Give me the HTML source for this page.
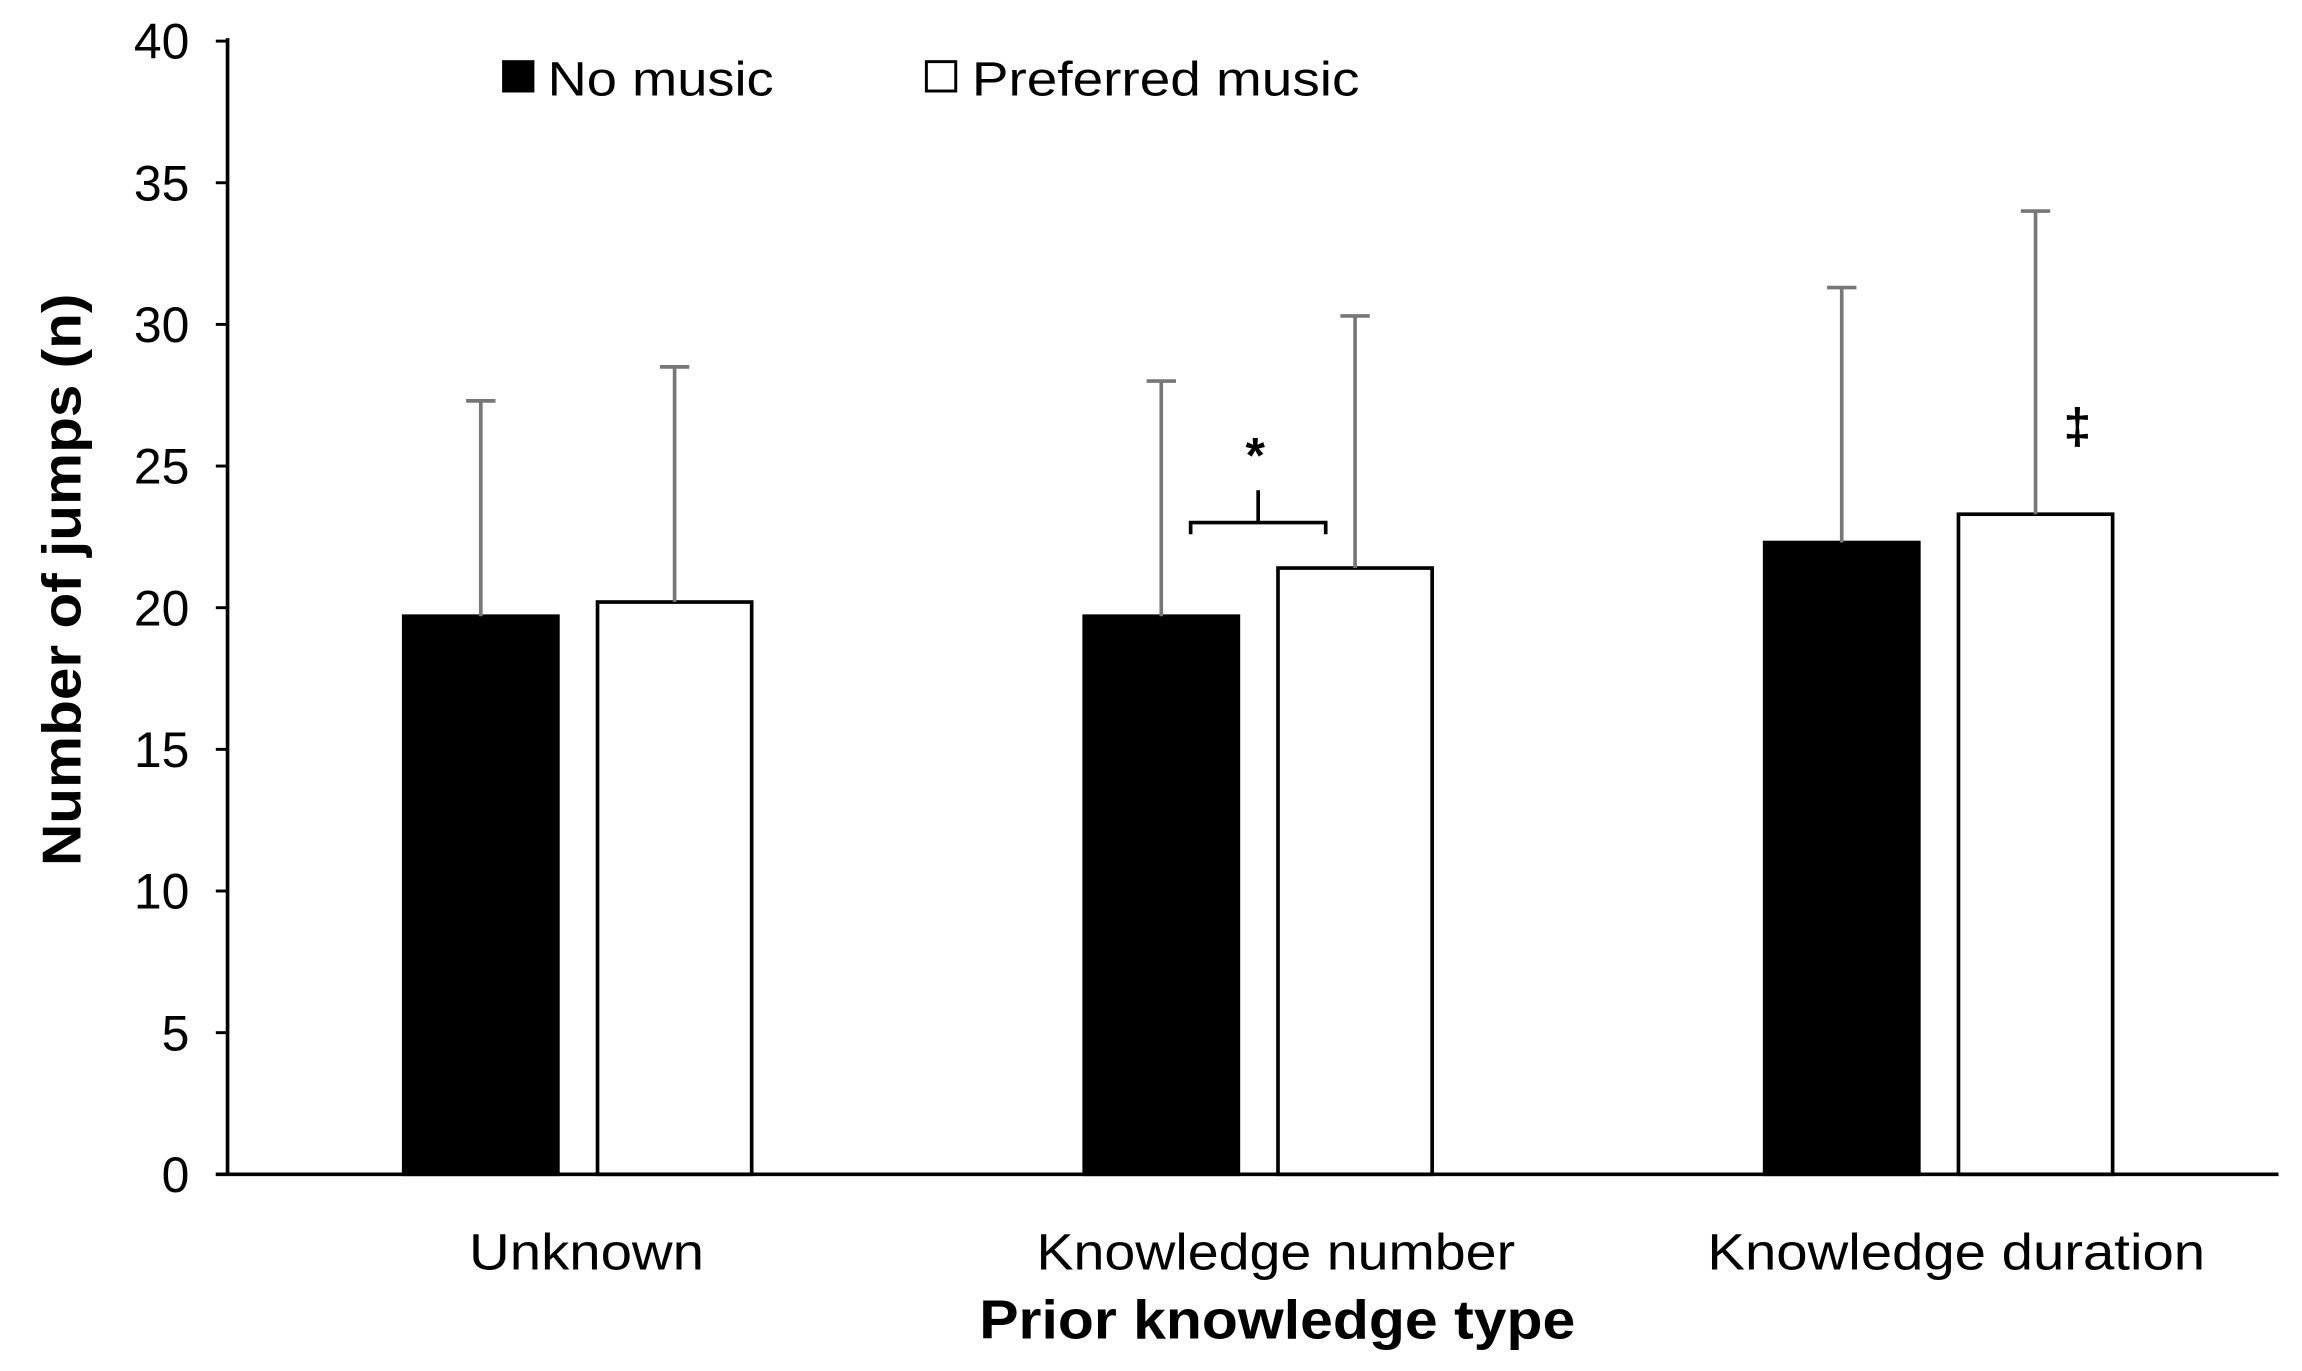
<!DOCTYPE html>
<html><head><meta charset="utf-8"><style>
html,body{margin:0;padding:0;background:#fff;}
svg{display:block;}
text{font-family:"Liberation Sans",sans-serif;fill:#000;}
</style></head><body>
<svg id="chart" width="2302" height="1371" viewBox="0 0 1568 934" preserveAspectRatio="none" xmlns="http://www.w3.org/2000/svg">
<g id="axes"></g>
<g id="bars"></g>
<g id="legend">
  <rect x="342" y="41" width="22" height="22" fill="#000"/>
  <text x="373" y="65" font-size="33" textLength="154" lengthAdjust="spacingAndGlyphs">No music</text>
  <rect x="631" y="42" width="20" height="20" fill="#fff" stroke="#000" stroke-width="2"/>
  <text x="662" y="65" font-size="33" textLength="264" lengthAdjust="spacingAndGlyphs">Preferred music</text>
</g>
<text transform="translate(55,395) rotate(-90)" text-anchor="middle" font-size="37" font-weight="bold" textLength="390" lengthAdjust="spacingAndGlyphs">Number of jumps (n)</text>
<text x="870" y="912" text-anchor="middle" font-size="37" font-weight="bold" textLength="406" lengthAdjust="spacingAndGlyphs">Prior knowledge type</text>
<g fill="none" stroke="#000" stroke-width="2.5">
  <path d="M811,364 L811,356 L903,356 L903,364 M857,356 L857,334"/>
</g>
<text x="855" y="322" text-anchor="middle" font-size="34" font-weight="bold">*</text>
<text x="1415" y="302" text-anchor="middle" font-size="34" font-weight="bold">‡</text>
</svg>
<script>
const categories = ["Unknown", "Knowledge number", "Knowledge duration"];
const noMusic = [19.7, 19.7, 22.3];
const preferredMusic = [20.2, 21.4, 23.3];
const noMusicErrTop = [27.3, 28.0, 31.3];
const preferredErrTop = [28.5, 30.3, 34.0];
const yTicks = [0, 5, 10, 15, 20, 25, 30, 35, 40];

const NS = "http://www.w3.org/2000/svg";
const x0 = 155, x1 = 1552, yTop = 28, yBase = 800;
const groupCenters0 = 393.5, groupStep = 463.5, barW = 105, gap = 27;
const labelWidths = [160, 326, 339];
const labelShift = [6, 12, 12];
function yScale(v){ return yBase - (v / 40) * (yBase - yTop); }
function groupCenter(i){ return groupCenters0 + i * groupStep; }
function mk(tag, attrs, parent){ const e = document.createElementNS(NS, tag); for (const k in attrs) e.setAttribute(k, attrs[k]); parent.appendChild(e); return e; }

const axes = document.getElementById('axes');
const bars = document.getElementById('bars');

yTicks.forEach(t => {
  const y = yScale(t);
  const tk = mk('line', {x1: x0 - 8, x2: x0, y1: y, y2: y, stroke: '#000', 'stroke-width': 2}, axes);
  
  
  const lb = mk('text', {x: 129, y: y + 12, 'text-anchor': 'end', 'font-size': 34}, axes);
  lb.textContent = t;
  
  
});

categories.forEach((c, i) => {
  const cx = groupCenter(i);
  const lb = mk('text', {x: cx + labelShift[i], y: 865, 'text-anchor': 'middle', 'font-size': 35, textLength: labelWidths[i], lengthAdjust: 'spacingAndGlyphs'}, axes);
  lb.textContent = c;
  
  

  const series = [
    {v: noMusic[i], e: noMusicErrTop[i], fill: '#000', x: cx - gap / 2 - barW, name: 'bar-no-music'},
    {v: preferredMusic[i], e: preferredErrTop[i], fill: '#fff', x: cx + gap / 2, name: 'bar-preferred-music'}
  ];
  series.forEach(s => {
    const yv = yScale(s.v);
    const r = mk('rect', {x: s.x, y: yv, width: barW, height: yBase - yv, fill: s.fill, stroke: '#000', 'stroke-width': 2.5}, bars);
    
    
    const bx = s.x + barW / 2, ye = yScale(s.e);
    const eb = mk('path', {d: `M${bx},${yv} L${bx},${ye} M${bx - 10},${ye} L${bx + 10},${ye}`, stroke: '#777', 'stroke-width': 2.5, fill: 'none'}, bars);
    
    
  });
});

const ya = mk('line', {x1: x0, x2: x0, y1: yTop - 2, y2: yBase, stroke: '#000', 'stroke-width': 2.5}, axes);


const xa = mk('line', {x1: x0 - 8, x2: x1, y1: yBase, y2: yBase, stroke: '#000', 'stroke-width': 2.5}, axes);


</script>
</body></html>
